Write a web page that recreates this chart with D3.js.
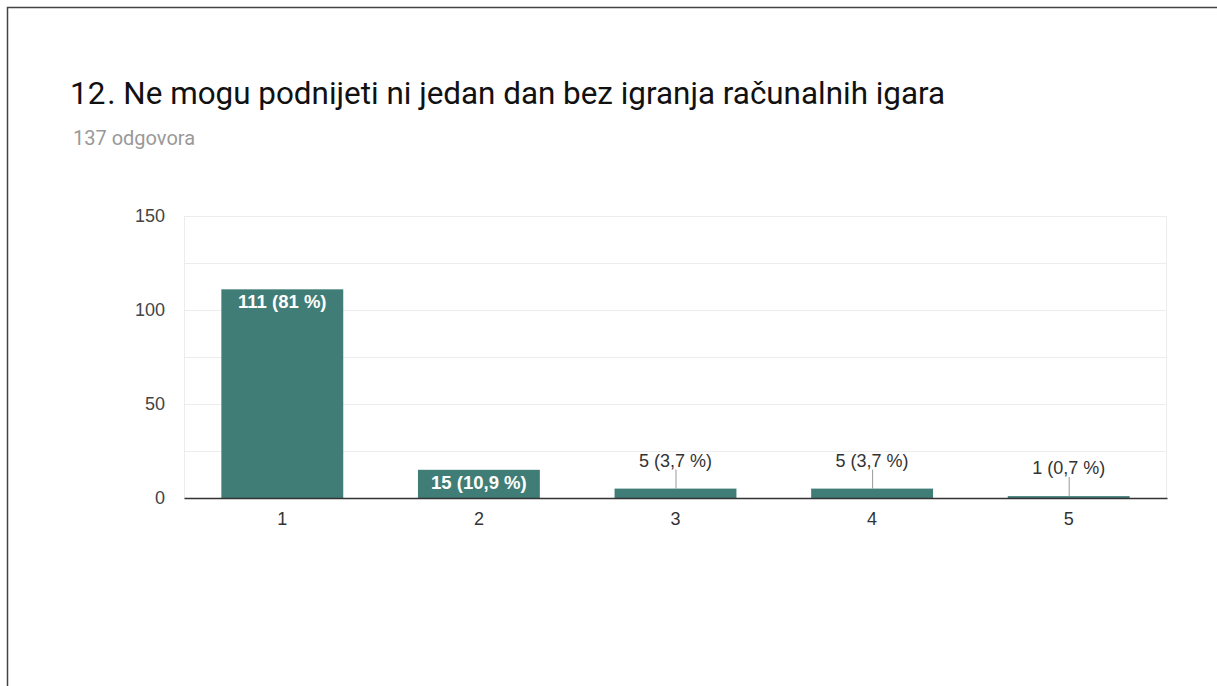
<!DOCTYPE html>
<html>
<head>
<meta charset="utf-8">
<script src="https://cdn.jsdelivr.net/npm/d3@7"></script>
<style>
  body { margin: 0; background: #fff; }
  svg { display: block; }
</style>
</head>
<body>
<svg width="1217" height="686"></svg>
<script>
const categories = ["1", "2", "3", "4", "5"];
const counts = [111, 15, 5, 5, 1];
const percents = ["81 %", "10,9 %", "3,7 %", "3,7 %", "0,7 %"];
const yTicks = [0, 50, 100, 150];
const yGrid = [0, 25, 50, 75, 100, 125, 150];

const svg = d3.select("svg");
const width = +svg.attr("width");
const height = +svg.attr("height");

// card frame (only top and left edges visible)
svg.append("path")
  .attr("d", `M7.5,${height} V7.5 H${width}`)
  .attr("fill", "none")
  .attr("stroke", "#444")
  .attr("stroke-width", 1.5);

const title = svg.append("text")
  .attr("x", 70).attr("y", 104)
  .attr("font-family", "Roboto, Arial, sans-serif")
  .attr("font-size", 31.4)
  .attr("fill", "#111");
title.append("tspan").text("12");
title.append("tspan").attr("dx", 2).text(". Ne mogu podnijeti ni jedan dan bez igranja računalnih igara");

svg.append("text")
  .attr("x", 73).attr("y", 145)
  .attr("font-family", "Roboto, Arial, sans-serif")
  .attr("font-size", 20)
  .attr("fill", "#999")
  .text("137 odgovora");

const margin = {top: 216, right: 50, bottom: 188, left: 184};
const innerWidth = width - margin.left - margin.right;
const innerHeight = height - margin.top - margin.bottom;

const g = svg.append("g")
  .attr("transform", `translate(${margin.left}, ${margin.top})`);

const x = d3.scaleBand()
  .domain(categories)
  .range([0, innerWidth])
  .paddingInner(0.38)
  .paddingOuter(0.19);

const y = d3.scaleLinear()
  .domain([0, 150])
  .range([innerHeight, 0]);

// gridlines
g.selectAll(".grid")
  .data(yGrid)
  .join("line")
  .attr("x1", 0).attr("x2", innerWidth)
  .attr("y1", d => y(d) + 0.5).attr("y2", d => y(d) + 0.5)
  .attr("stroke", "#ececec");

g.append("line")
  .attr("x1", 0.5).attr("x2", 0.5)
  .attr("y1", 0).attr("y2", innerHeight)
  .attr("stroke", "#ececec");
g.append("line")
  .attr("x1", innerWidth - 0.5).attr("x2", innerWidth - 0.5)
  .attr("y1", 0).attr("y2", innerHeight)
  .attr("stroke", "#ececec");

const font = "Arial, 'Liberation Sans', sans-serif";

// y axis labels
const yAxis = d3.axisLeft(y).tickValues(yTicks).tickSize(0).tickPadding(19);
const yg = g.append("g").call(yAxis);
yg.select(".domain").remove();
yg.selectAll("text")
  .attr("font-family", font)
  .attr("font-size", 18)
  .attr("fill", "#444");

const data = categories.map((c, i) => ({cat: c, count: counts[i], pct: percents[i]}));

// bars
g.selectAll(".bar")
  .data(data)
  .join("rect")
  .attr("x", d => x(d.cat))
  .attr("y", d => y(d.count))
  .attr("width", x.bandwidth())
  .attr("height", d => innerHeight - y(d.count))
  .attr("fill", "#417d77");

// baseline axis
const xAxis = d3.axisBottom(x).tickSize(0).tickPadding(14);
const xg = g.append("g")
  .attr("transform", `translate(0, ${innerHeight})`)
  .call(xAxis);
xg.select(".domain").attr("stroke", "#333").attr("stroke-width", 1.3);
xg.selectAll("text")
  .attr("font-family", font)
  .attr("font-size", 18)
  .attr("fill", "#333");

// value labels
const inside = d => innerHeight - y(d.count) > 20;
const labels = g.selectAll(".lbl")
  .data(data)
  .join("g");

labels.filter(inside).append("text")
  .attr("x", d => x(d.cat) + x.bandwidth() / 2)
  .attr("y", d => y(d.count) + 19)
  .attr("text-anchor", "middle")
  .attr("font-family", font)
  .attr("font-size", 18.5)
  .attr("font-weight", "bold")
  .attr("fill", "#fff")
  .text(d => `${d.count} (${d.pct})`);

const outside = labels.filter(d => !inside(d));
outside.append("line")
  .attr("x1", d => x(d.cat) + x.bandwidth() / 2 + 0.5)
  .attr("x2", d => x(d.cat) + x.bandwidth() / 2 + 0.5)
  .attr("y1", d => y(d.count))
  .attr("y2", d => y(d.count) - 19)
  .attr("stroke", "#999");
outside.append("text")
  .attr("x", d => x(d.cat) + x.bandwidth() / 2)
  .attr("y", d => y(d.count) - 22)
  .attr("text-anchor", "middle")
  .attr("font-family", font)
  .attr("font-size", 18)
  .attr("fill", "#333")
  .text(d => `${d.count} (${d.pct})`);
</script>
</body>
</html>
